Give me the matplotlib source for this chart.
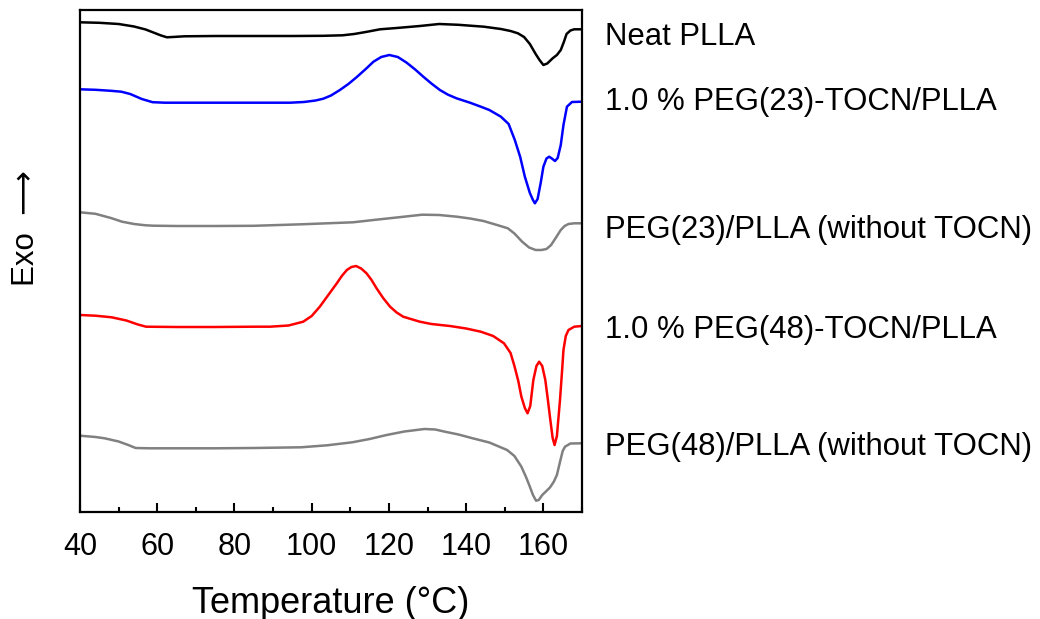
import numpy as np
import matplotlib
matplotlib.use("Agg")
import matplotlib.pyplot as plt
from matplotlib.ticker import MultipleLocator

plt.rcParams['font.family'] = ['Liberation Sans', 'DejaVu Sans']

# DSC heating traces: temperature (°C) and signal in display units (larger = more endothermic / lower on the plot)
neat_T = [40, 45, 50, 54, 57, 59, 61, 62.5, 64, 67, 75, 85, 95, 103, 108, 111, 114, 117.7, 122, 128,
          133, 138, 144.6, 149, 151.5, 153.4, 155, 156.5, 158, 159, 160, 161, 162.4, 163.5, 164.5,
          165.3, 166, 167, 168, 170]
neat_y = [22.3, 22.8, 24, 26.5, 29.5, 32.5, 35.5, 37.3, 37, 36.3, 36, 36, 36, 35.8, 35.3, 34, 32, 29.3, 28, 26,
          24, 24.8, 26.7, 29, 31, 33.3, 37, 44, 54, 60, 65, 63.5, 58.3, 55, 50,
          42, 34, 30.5, 29.3, 29.3]

p23_T = [40, 44, 48, 50.7, 53, 56, 58.8, 62, 70, 80, 90, 94.4, 98, 101, 103, 105, 107.3, 109.5, 111.6,
         114, 116, 118, 120.1, 122.3, 124.6, 126.8, 128.9, 131, 133.2, 135.3, 137.5, 141, 143.8, 146,
         149, 151, 152.6, 154, 155.2, 156.5, 157.3, 157.8, 158.5, 159.3, 160, 160.8, 161.5, 162.2, 163,
         163.7, 164.5, 165.2, 166.1, 167.4, 170]
p23_y = [89.3, 89.8, 90.8, 91.7, 94, 99, 102.2, 102.7, 102.7, 102.7, 102.7, 102.7, 102, 100.5, 98.7, 95.5, 90, 84, 77.3,
         69, 61.7, 57, 55, 57, 62.7, 69.5, 76.7, 83.5, 90, 94.7, 98.3, 102.7, 106.7, 110,
         116.7, 124, 140, 157, 176.7, 193, 200, 203.3, 199, 183, 166.7, 158.5, 156.7, 158.5, 161,
         158, 145, 125, 106.7, 102, 101.7]

g23_T = [40, 44, 48, 50.9, 54, 57, 59, 65, 75, 85, 97.3, 104, 110.7, 116, 122, 128.6, 133, 137.6, 141,
         144.5, 148, 150.8, 152.5, 154.5, 156.3, 158, 159.5, 160.8, 162, 163.4, 164.5, 165.5, 166.5, 168, 170]
g23_y = [212.3, 213.8, 218, 221.7, 224, 225.3, 225.7, 226, 226, 225.8, 224.3, 223.3, 222.3, 220, 217.5, 214.7, 215, 216.7, 218.5,
         221, 225, 228.3, 233.5, 241.7, 247.5, 250, 250, 249, 245, 236.7, 230, 226, 224, 223.3, 223.3]

p48_T = [40, 44, 48.2, 52, 55, 57.1, 65, 75, 85, 89.2, 94, 97.8, 100, 102.1, 104.3, 106.5, 107.8, 109.1,
         110.3, 111.5, 112.8, 114.2, 115.5, 116.8, 118.5, 120.3, 122, 123.7, 128, 131, 135.8, 140, 143.8,
         147, 149.8, 151.5, 152.5, 153.5, 154.3, 155.2, 155.9, 156.6, 157.4, 158.2, 158.9, 159.7, 160.5,
         161.2, 161.8, 162.4, 162.9, 163.5, 164.3, 164.8, 165.2, 165.8, 166.5, 168, 170]
p48_y = [315, 315.7, 317.3, 320.5, 324.5, 326.7, 327, 327, 326.7, 326.7, 325.5, 321.7, 316, 306.7, 295, 283.3, 276, 270,
         267, 266, 268.5, 273.3, 280, 288.3, 298, 306.7, 312.5, 316.7, 321.7, 324, 326, 328.5, 331.7,
         336, 343.3, 353, 366, 381, 396.7, 408, 413.3, 406, 380, 366, 361.7, 366, 380,
         401, 420, 438, 445, 436, 400, 373, 350, 336, 330, 326.7, 326]

g48_T = [40, 44, 46.4, 50, 52.5, 54.4, 58, 65, 75, 85, 97.2, 104, 110.5, 115, 119.4, 124, 129.2, 132,
         134.5, 138, 141.7, 146, 150.6, 152.5, 154.3, 155.5, 156.5, 157.3, 158.1, 158.8, 159.7, 160.6,
         161.7, 162.7, 163.5, 164.3, 165, 165.6, 167, 170]
g48_y = [435.7, 437, 438.3, 441.5, 445, 448, 448.3, 448.3, 448.3, 448, 447.3, 445.3, 442.3, 439, 435, 431.5, 429, 429.5,
         431.7, 434.5, 438.3, 442.5, 450, 456, 466.7, 477, 486.7, 495, 500.7, 500, 495, 491.7,
         487.5, 481.7, 475, 462, 451, 446.7, 443.5, 443.3]

labels = ["Neat PLLA",
          "1.0 % PEG(23)-TOCN/PLLA",
          "PEG(23)/PLLA (without TOCN)",
          "1.0 % PEG(48)-TOCN/PLLA",
          "PEG(48)/PLLA (without TOCN)"]
label_y = [475, 410, 282, 182, 65]

traces = [(neat_T, neat_y), (p23_T, p23_y), (g23_T, g23_y), (p48_T, p48_y), (g48_T, g48_y)]
colors = ["black", "#0000ff", "#808080", "#ff0000", "#808080"]

fig = plt.figure(figsize=(10.4, 6.19), dpi=100)
ax = fig.add_axes([80 / 1040, 1 - 512 / 619, 502 / 1040, 502 / 619])

TOP = 512.0
for (T, y), c in zip(traces, colors):
    # stacked display: signal measured downward from the top of the frame
    ax.plot(T, TOP - np.asarray(y), color=c, lw=1.8, solid_joinstyle='round', solid_capstyle='round')

for lab, yy in zip(labels, label_y):
    ax.text(176.0, yy, lab, fontsize=22.4, va='center', ha='left', clip_on=False)

ax.set_xlim(40, 170)
ax.set_ylim(0, 502)
ax.xaxis.set_major_locator(MultipleLocator(20))
ax.xaxis.set_minor_locator(MultipleLocator(10))
ax.tick_params(axis='x', which='major', direction='in', length=6.5, width=1.5,
               labelsize=22, pad=14.5, top=False)
ax.tick_params(axis='x', which='minor', direction='in', length=3.6, width=1.5, top=False)
ax.set_yticks([])
for s in ax.spines.values():
    s.set_linewidth(1.6)

ax.set_xlabel("Temperature (°C)", fontsize=26, labelpad=17)
ax.set_ylabel("Exo  \u27f6", fontsize=22.5)
ax.yaxis.set_label_coords(-0.077, 0.565)

fig.savefig("out.png", dpi=100)
